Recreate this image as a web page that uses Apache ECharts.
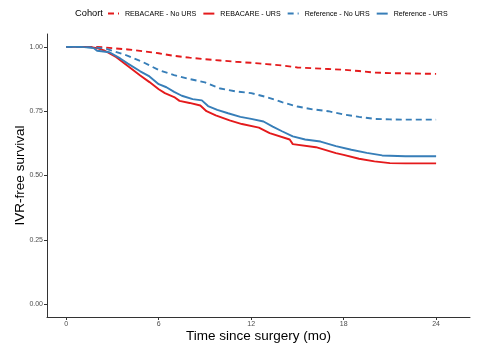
<!DOCTYPE html>
<html><head><meta charset="utf-8">
<script src="https://cdn.jsdelivr.net/npm/echarts@6/dist/echarts.min.js"></script>
<style>html,body{margin:0;padding:0;background:#fff}#c{width:480px;height:348px}</style>
</head><body><div id="c"></div>
<script>
var xTicks = [0, 6, 12, 18, 24];
var yTicks = [0, 0.25, 0.5, 0.75, 1];
var rebNoT = [0, 2, 3, 4, 5, 6, 7, 8, 9, 10, 11, 12, 13, 14, 15, 16, 17, 18, 19, 20, 21, 22, 23, 24];
var rebNoV = [1, 1, 0.995, 0.99, 0.983, 0.975, 0.965, 0.958, 0.952, 0.947, 0.942, 0.938, 0.933, 0.928, 0.92, 0.917, 0.914, 0.911, 0.906, 0.9, 0.898, 0.897, 0.896, 0.895];
var rebT = [0, 1.5, 2, 2.5, 3.25, 4.1, 4.8, 5.4, 6.0, 6.4, 7.0, 7.35, 8.0, 8.7, 9.1, 9.7, 10.6, 11.4, 12.5, 13.2, 14.5, 14.7, 16.2, 17.5, 18.0, 19.0, 20.0, 21.0, 22.0, 24];
var rebV = [1, 1, 0.995, 0.985, 0.96, 0.921, 0.889, 0.863, 0.835, 0.82, 0.805, 0.79, 0.782, 0.772, 0.75, 0.734, 0.714, 0.7, 0.686, 0.665, 0.64, 0.622, 0.61, 0.587, 0.58, 0.565, 0.555, 0.548, 0.547, 0.547];
var refNoT = [0, 1, 2, 2.6, 3, 4, 5, 6, 7, 8, 9, 10, 11, 12, 13, 14, 15, 16, 17, 18, 19, 20, 21, 22, 24];
var refNoV = [1, 1, 0.997, 0.992, 0.985, 0.965, 0.94, 0.91, 0.89, 0.875, 0.862, 0.838, 0.827, 0.82, 0.805, 0.785, 0.768, 0.757, 0.75, 0.737, 0.728, 0.72, 0.718, 0.717, 0.717];
var refT = [0, 1, 1.8, 2, 2.8, 3.5, 4, 4.8, 5.4, 6, 6.5, 7, 7.5, 8.2, 8.8, 9.2, 9.8, 10.5, 11.3, 12, 12.8, 13.4, 14, 14.7, 15.5, 16.5, 17.5, 18.5, 19.5, 20.5, 22, 24];
var refV = [1, 1, 0.995, 0.985, 0.979, 0.955, 0.935, 0.905, 0.885, 0.855, 0.843, 0.825, 0.81, 0.797, 0.792, 0.77, 0.755, 0.742, 0.728, 0.72, 0.71, 0.69, 0.672, 0.652, 0.64, 0.632, 0.614, 0.6, 0.588, 0.578, 0.575, 0.575];

function pairs(t, v) { return t.map(function (x, i) { return [x, v[i]]; }); }
var RED = '#E41A1C', BLUE = '#377EB8';
function ser(name, t, v, color, dashed) {
  return {
    name: name, type: 'line', showSymbol: false, symbol: 'none',
    data: pairs(t, v), color: color,
    lineStyle: { color: color, width: 1.9, type: dashed ? [6, 4] : 'solid' },
    animation: false
  };
}
var chart = echarts.init(document.getElementById('c'), null, { renderer: 'canvas' });
chart.setOption({
  animation: false,
  backgroundColor: '#fff',
  grid: { left: 47, right: 10, top: 34, bottom: 31, outerBoundsMode: 'none', containLabel: false },
  graphic: [{ type: 'text', left: 75, top: 9, style: { text: 'Cohort', fontSize: 9.3, fontFamily: 'Liberation Sans, Arial', fill: '#000' } }],
  legend: {
    top: 10, left: 107, width: 400, padding: 0, itemWidth: 11, itemHeight: 9, itemGap: 6,
    itemStyle: { opacity: 0 },
    textStyle: { fontSize: 7.1, fontFamily: 'Liberation Sans, Arial', color: '#000', padding: [0, 0, 0, 1] },
    data: ['REBACARE - No URS', 'REBACARE - URS', 'Reference - No URS', 'Reference - URS']
  },
  xAxis: {
    type: 'value', min: -1.25, max: 26.2,
    name: 'Time since surgery (mo)', nameLocation: 'middle', nameGap: 12, nameMoveOverlap: false,
    nameTextStyle: { fontSize: 13.5, fontFamily: 'Liberation Sans, Arial', color: '#000' },
    axisLine: { show: true, onZero: false, lineStyle: { color: '#333', width: 1 } },
    axisTick: { show: true, length: 3, customValues: xTicks, lineStyle: { color: '#333' } },
    axisLabel: { customValues: xTicks, fontSize: 7, color: '#4D4D4D', margin: 4, fontFamily: 'Liberation Sans, Arial' },
    splitLine: { show: false }
  },
  yAxis: {
    type: 'value', min: -0.05, max: 1.05,
    name: 'IVR-free survival', nameLocation: 'middle', nameGap: 20, nameRotate: 90, nameMoveOverlap: false,
    nameTextStyle: { fontSize: 13.5, fontFamily: 'Liberation Sans, Arial', color: '#000' },
    axisLine: { show: true, onZero: false, lineStyle: { color: '#333', width: 1 } },
    axisTick: { show: true, length: 3, customValues: yTicks, lineStyle: { color: '#333' } },
    axisLabel: { customValues: yTicks, fontSize: 7, color: '#4D4D4D', margin: 4, fontFamily: 'Liberation Sans, Arial',
      formatter: function (v) { return v.toFixed(2); } },
    splitLine: { show: false }
  },
  series: [
    ser('REBACARE - No URS', rebNoT, rebNoV, RED, true),
    ser('REBACARE - URS', rebT, rebV, RED, false),
    ser('Reference - No URS', refNoT, refNoV, BLUE, true),
    ser('Reference - URS', refT, refV, BLUE, false)
  ]
});
</script></body></html>
